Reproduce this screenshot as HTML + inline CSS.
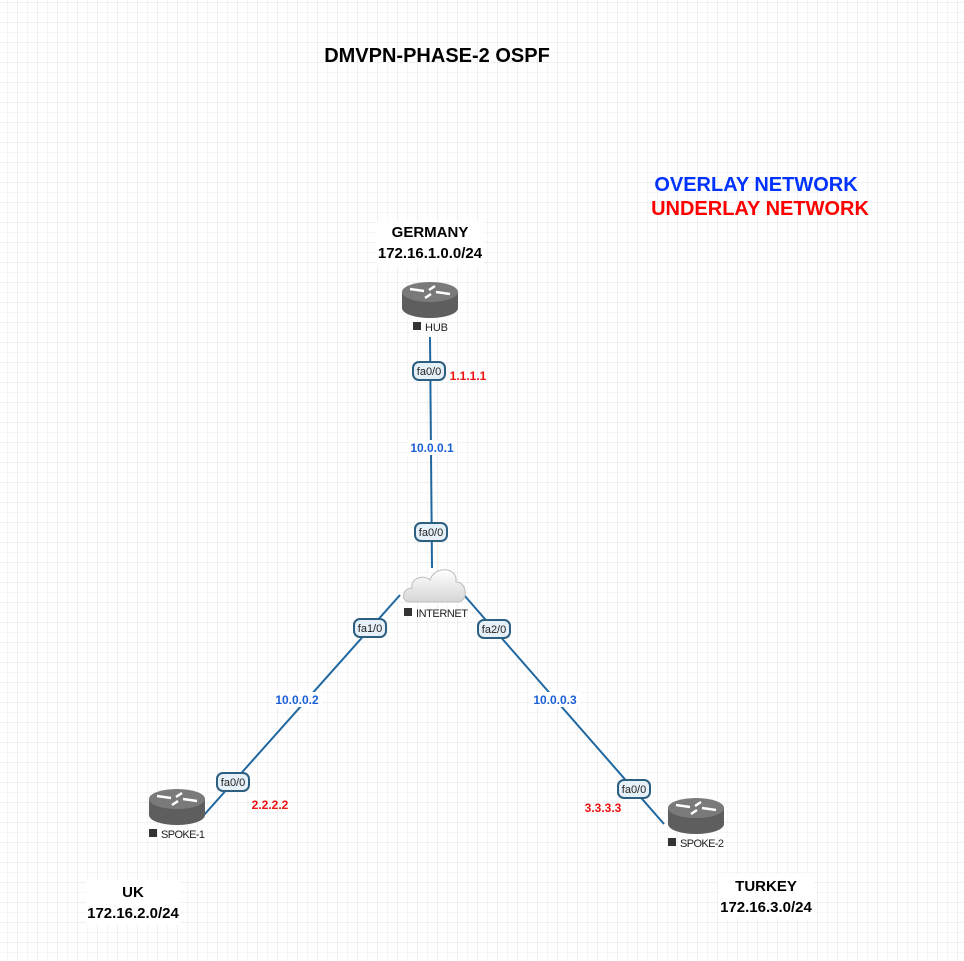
<!DOCTYPE html>
<html><head><style>body{margin:0;background:#fff}svg{display:block}text{font-family:"Liberation Sans",sans-serif}</style></head><body>
<svg width="964" height="961" xmlns="http://www.w3.org/2000/svg">
<defs>
<pattern id="g" width="10" height="10" patternUnits="userSpaceOnUse" x="7" y="2"><path d="M0 0H10M0 0V10" stroke="#ececec" stroke-width="1" fill="none"/></pattern>
<pattern id="g2" width="20" height="20" patternUnits="userSpaceOnUse" x="17" y="22"><path d="M0 0H20M0 0V20" stroke="#e2e2e2" stroke-width="1" fill="none"/></pattern>
<linearGradient id="cl" x1="0" y1="0" x2="0" y2="1"><stop offset="0" stop-color="#fff"/><stop offset="1" stop-color="#d6d6d6"/></linearGradient>
<g id="rt">
<path d="M0 11 V27 A28 10 0 0 0 56 27 V11 Z" fill="#5e5e5e"/>
<ellipse cx="28" cy="11" rx="28" ry="10" fill="#7a7a7a"/>
<path d="M8 8 L22 10 M48 13 L34 11 M33 5 L27 9 M23 17 L29 13" stroke="#fff" stroke-width="2.5"/>
</g>
</defs>
<rect width="964" height="961" fill="#fff"/>
<rect width="964" height="961" fill="url(#g)"/>
<rect width="964" height="961" fill="url(#g2)"/>
<g stroke="#1f67a0" stroke-width="2" fill="none">
<line x1="430" y1="337" x2="432" y2="568"/>
<line x1="400" y1="595" x2="204" y2="815"/>
<line x1="464" y1="595" x2="664" y2="824"/>
</g>
<text x="437" y="62" font-size="20" font-weight="bold" text-anchor="middle">DMVPN-PHASE-2 OSPF</text>
<text x="756" y="191" font-size="20" font-weight="bold" fill="#0033ff" text-anchor="middle">OVERLAY NETWORK</text>
<text x="760" y="215" font-size="20" font-weight="bold" fill="#ff0000" text-anchor="middle">UNDERLAY NETWORK</text>
<rect x="376" y="222" width="108" height="44" fill="#fff"/>
<text x="430" y="237" font-size="15" font-weight="bold" text-anchor="middle">GERMANY</text>
<text x="430" y="258" font-size="15" font-weight="bold" text-anchor="middle">172.16.1.0.0/24</text>
<rect x="86" y="880" width="94" height="44" fill="#fff"/>
<text x="133" y="897" font-size="15" font-weight="bold" text-anchor="middle">UK</text>
<text x="133" y="918" font-size="15" font-weight="bold" text-anchor="middle">172.16.2.0/24</text>
<rect x="718" y="874" width="96" height="44" fill="#fff"/>
<text x="766" y="891" font-size="15" font-weight="bold" text-anchor="middle">TURKEY</text>
<text x="766" y="912" font-size="15" font-weight="bold" text-anchor="middle">172.16.3.0/24</text>
<use href="#rt" x="402" y="281"/>
<use href="#rt" x="149" y="788"/>
<use href="#rt" x="668" y="797"/>
<path d="M410 602 C400 602 402 588 412 588 C410 578 424 574 430 580 C434 566 458 566 456 582 C468 582 468 602 458 602 Z" fill="url(#cl)" stroke="#bdbdbd"/>
<g font-size="11" fill="#222">
<rect x="413" y="322" width="8" height="8" fill="#333"/><text x="425" y="331" textLength="23">HUB</text>
<rect x="404" y="608" width="8" height="8" fill="#333"/><text x="416" y="617" textLength="52">INTERNET</text>
<rect x="149" y="829" width="8" height="8" fill="#333"/><text x="161" y="838" textLength="44">SPOKE-1</text>
<rect x="668" y="838" width="8" height="8" fill="#333"/><text x="680" y="847" textLength="44">SPOKE-2</text>
</g>
<g fill="#e6f0f8" stroke="#2d5f80" stroke-width="2">
<rect x="413" y="362" width="32" height="18" rx="6"/>
<rect x="415" y="523" width="32" height="18" rx="6"/>
<rect x="354" y="619" width="32" height="18" rx="6"/>
<rect x="478" y="620" width="32" height="18" rx="6"/>
<rect x="217" y="773" width="32" height="18" rx="6"/>
<rect x="618" y="780" width="32" height="18" rx="6"/>
</g>
<g font-size="11" text-anchor="middle" fill="#222">
<text x="429" y="375">fa0/0</text>
<text x="431" y="536">fa0/0</text>
<text x="370" y="632">fa1/0</text>
<text x="494" y="633">fa2/0</text>
<text x="233" y="786">fa0/0</text>
<text x="634" y="793">fa0/0</text>
</g>
<g font-size="12" font-weight="bold" text-anchor="middle">
<rect x="407" y="440" width="50" height="15" fill="#fff"/>
<rect x="272" y="692" width="50" height="15" fill="#fff"/>
<rect x="530" y="692" width="50" height="15" fill="#fff"/>
<text x="432" y="452" fill="#1a5fd6">10.0.0.1</text>
<text x="297" y="704" fill="#1a5fd6">10.0.0.2</text>
<text x="555" y="704" fill="#1a5fd6">10.0.0.3</text>
<text x="468" y="380" fill="#ee1111">1.1.1.1</text>
<text x="270" y="809" fill="#ee1111">2.2.2.2</text>
<text x="603" y="812" fill="#ee1111">3.3.3.3</text>
</g>
</svg>
</body></html>
